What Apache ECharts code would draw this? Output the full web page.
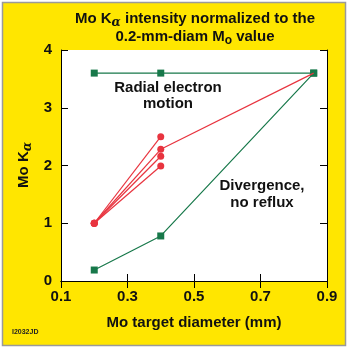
<!DOCTYPE html>
<html><head><meta charset="utf-8">
<script src="https://cdn.jsdelivr.net/npm/echarts@6/dist/echarts.min.js"></script>
<style>html,body{margin:0;padding:0;background:#fff}#c{width:350px;height:350px}</style>
</head><body><div id="c"></div>
<script>
// Data
const xDiam = [0.2, 0.4, 0.86];
const radialMax = [3.6, 3.6, 3.6];        // upper green line
const divergence = [0.19, 0.78, 3.6];     // lower green line
const redStart = [0.2, 1.0];
const redEndX = 0.4;
const redEnds = [2.5, 2.28, 2.16, 1.99];
const redFinal = [0.86, 3.6];
const xTicks = [0.1, 0.3, 0.5, 0.7, 0.9];
const yTicks = [0, 1, 2, 3, 4];

const GREEN = '#17784a', RED = '#e8343f', YEL = '#ffe600';
const FONT = 'Liberation Sans, Arial, sans-serif';

const series = [];
series.push({type:'line', data: xDiam.map((x,i)=>[x, radialMax[i]]), symbol:'rect', symbolSize:7,
  lineStyle:{color:GREEN,width:1.2}, itemStyle:{color:GREEN}, z:3});
series.push({type:'line', data: xDiam.map((x,i)=>[x, divergence[i]]), symbol:'rect', symbolSize:7,
  lineStyle:{color:GREEN,width:1.2}, itemStyle:{color:GREEN}, z:3});
redEnds.forEach(v=>{
  series.push({type:'line', data:[redStart, [redEndX, v]], symbol:'circle', symbolSize:7,
    lineStyle:{color:RED,width:1.2}, itemStyle:{color:RED}, z:4});
});
series.push({type:'line', data:[[redEndX, redEnds[1]], redFinal], symbol:'none',
  lineStyle:{color:RED,width:1.2}, z:4});

const axisLab = {color:'#111', fontFamily:FONT, fontWeight:'bold', fontSize:15};
const option = {
  backgroundColor:'#fff',
  animation:false,
  grid:{left:61, top:50, right:23, bottom:69, show:false},
  xAxis:[{type:'value', min:0.1, max:0.9, interval:0.2,
    axisLine:{show:true, lineStyle:{color:'#000', width:1}},
    axisTick:{show:true, inside:true, length:7, lineStyle:{color:'#000'}},
    axisLabel:Object.assign({margin:8, formatter:v=>v.toFixed(1)}, axisLab),
    splitLine:{show:false}},
    {type:'value', position:'top', min:0.1, max:0.9, interval:0.2,
    axisLine:{show:true, lineStyle:{color:'#000', width:1}},
    axisTick:{show:true, inside:true, length:7, lineStyle:{color:'#000'}},
    axisLabel:{show:false}, splitLine:{show:false}}],
  yAxis:[{type:'value', min:0, max:4, interval:1,
    axisLine:{show:true, lineStyle:{color:'#000', width:1}},
    axisTick:{show:true, inside:true, length:7, lineStyle:{color:'#000'}},
    axisLabel:Object.assign({margin:9}, axisLab),
    splitLine:{show:false}},
    {type:'value', position:'right', min:0, max:4, interval:1,
    axisLine:{show:true, lineStyle:{color:'#000', width:1}},
    axisTick:{show:true, inside:true, length:7, lineStyle:{color:'#000'}},
    axisLabel:{show:false}, splitLine:{show:false}}],
  graphic:[
    {type:'rect', z:-10, shape:{x:2.5, y:2.5, width:343, height:343}, style:{fill:YEL, stroke:'#9a9a9a', lineWidth:1.5}},
    {type:'rect', z:-9, shape:{x:61, y:50, width:266, height:231}, style:{fill:'#fff'}},
    {type:'text', x:195, y:10, style:{
      text:'Mo K{a|α} intensity normalized to the\n0.2-mm-diam M{s|o} value',
      textAlign:'center', fontFamily:FONT, fontWeight:'bold', fontSize:15, fill:'#111', lineHeight:18,
      rich:{a:{fontFamily:'DejaVu Serif', fontStyle:'italic', fontSize:12, fontWeight:'bold', padding:[7,0,0,0], fill:'#111'},
            s:{fontFamily:FONT, fontSize:12, fontWeight:'bold', padding:[7,0,0,0], fill:'#111'}}
    }},
    {type:'text', rotation:Math.PI/2, x:24, y:165, style:{
      text:'Mo K{a|α}', textAlign:'center', textVerticalAlign:'middle', fontFamily:FONT, fontWeight:'bold', fontSize:15, fill:'#111',
      rich:{a:{fontFamily:'DejaVu Serif', fontStyle:'italic', fontSize:12, fontWeight:'bold', padding:[7,0,0,0], fill:'#111'}}}},
    {type:'text', x:194, y:315, style:{text:'Mo target diameter (mm)', textAlign:'center', fontFamily:FONT, fontWeight:'bold', fontSize:15, fill:'#111'}},
    {type:'text', x:12, y:329, style:{text:'I2032JD', fontFamily:FONT, fontWeight:'bold', fontSize:7, fill:'#222'}},
    {type:'text', x:168, y:80, z:10, style:{text:'Radial electron\nmotion', textAlign:'center', fontFamily:FONT, fontWeight:'bold', fontSize:15, lineHeight:16, fill:'#111'}},
    {type:'text', x:262, y:177, z:10, style:{text:'Divergence,\nno reflux', textAlign:'center', fontFamily:FONT, fontWeight:'bold', fontSize:15, lineHeight:17, fill:'#111'}}
  ],
  series: series
};
const chart = echarts.init(document.getElementById('c'));
chart.setOption(option);
</script></body></html>
